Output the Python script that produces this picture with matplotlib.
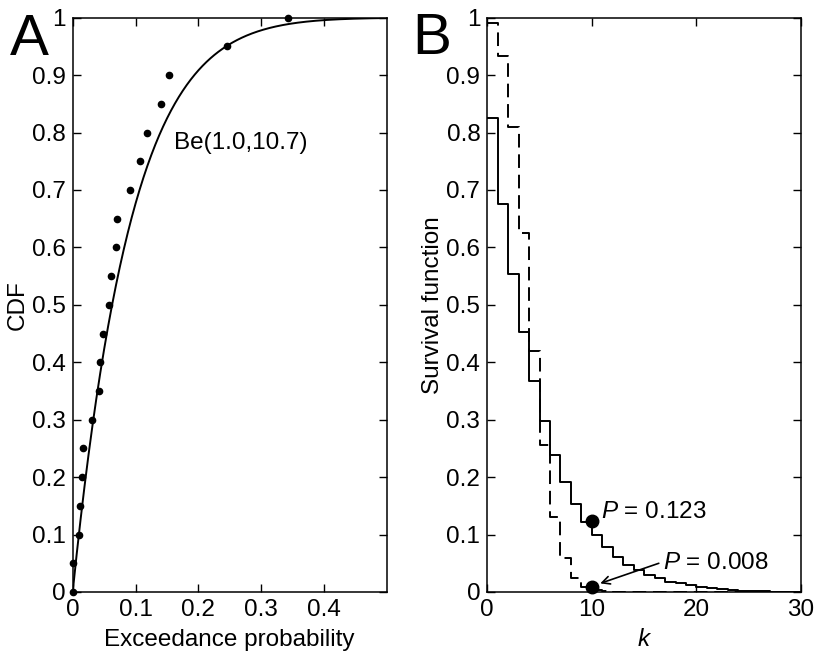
import numpy as np
import matplotlib
matplotlib.use("Agg")
import matplotlib.pyplot as plt

plt.rcParams['font.family'] = ['Liberation Sans', 'DejaVu Sans']
plt.rcParams['mathtext.fontset'] = 'custom'
plt.rcParams['mathtext.it'] = 'Liberation Sans:italic'
plt.rcParams['mathtext.rm'] = 'Liberation Sans'

# ---- Panel A data ----
exceed_x = [0.0, 0.001, 0.010, 0.012, 0.015, 0.016, 0.031, 0.042, 0.043, 0.049,
            0.058, 0.061, 0.069, 0.071, 0.091, 0.107, 0.118, 0.141, 0.153, 0.246, 0.343]
cdf_y = [0.0, 0.05, 0.10, 0.15, 0.20, 0.25, 0.30, 0.35, 0.40, 0.45, 0.50,
         0.55, 0.60, 0.65, 0.70, 0.75, 0.80, 0.85, 0.90, 0.95, 1.0]
beta_a, beta_b = 1.0, 10.7
fit_label = "Be(1.0,10.7)"

# ---- Panel B data ----
k_solid = [0.825, 0.676, 0.554, 0.452, 0.368, 0.297, 0.239, 0.191, 0.154, 0.122,
           0.099, 0.079, 0.0615, 0.047, 0.038, 0.030, 0.024, 0.018, 0.015, 0.012,
           0.009, 0.007, 0.005, 0.0035, 0.0025, 0.0017, 0.0011, 0.0007, 0.0004, 0.0002]
k_dashed = [0.990, 0.934, 0.809, 0.625, 0.419, 0.256, 0.130, 0.060, 0.025, 0.008,
            0.003, 0.0015, 0.0008, 0.0004, 0.0002, 0.0001, 0.0, 0.0, 0.0, 0.0,
            0.0, 0.0, 0.0, 0.0, 0.0, 0.0, 0.0, 0.0, 0.0, 0.0]
p_points_k = [10, 10]
p_points_v = [0.123, 0.008]
p_labels = ["$P$ = 0.123", "$P$ = 0.008"]

fig = plt.figure(figsize=(8.16, 6.55), dpi=100)
axA = fig.add_axes([72.7/816, 63/655, 314/816, 574.3/655])
axB = fig.add_axes([487.3/816, 63/655, 313.7/816, 574.3/655])

fs = 17.5
for ax in (axA, axB):
    ax.tick_params(direction='in', top=True, right=True, length=6, width=1.0,
                   labelsize=fs, pad=5)
    for s in ax.spines.values():
        s.set_linewidth(1.1)

ylabels = ['0'] + [f"{v/10:.1f}" for v in range(1, 10)] + ['1']

# Panel A
xs = np.linspace(0, 0.5, 400)
axA.plot(xs, 1 - (1 - xs) ** beta_b, color='black', lw=1.4)
axA.plot(exceed_x, cdf_y, 'o', color='black', ms=4.5, clip_on=False)
axA.set_xlim(0, 0.5)
axA.set_ylim(0, 1)
axA.set_xticks([0, 0.1, 0.2, 0.3, 0.4])
axA.set_xticklabels(['0', '0.1', '0.2', '0.3', '0.4'])
axA.set_yticks(np.arange(11) / 10)
axA.set_yticklabels(ylabels)
axA.text(0.162, 0.782, fit_label, fontsize=fs, va='center', ha='left')
axA.set_xlabel("Exceedance probability", fontsize=fs)
axA.set_ylabel("CDF", fontsize=fs)
axA.yaxis.set_label_coords(-0.139, 0.5)
axA.xaxis.set_label_coords(0.5, -0.064)

# Panel B
kk = np.arange(len(k_solid) + 1)
axB.step(kk, k_solid + [k_solid[-1]], where='post', color='black', lw=1.4)
axB.step(kk, k_dashed + [k_dashed[-1]], where='post', color='black', lw=1.4,
         linestyle=(0, (7, 3.5)))
axB.plot(p_points_k, p_points_v, 'o', color='black', ms=9, clip_on=False, zorder=5)
axB.text(10.9, 0.14, p_labels[0], fontsize=fs, va='center', ha='left')
axB.text(16.8, 0.05, p_labels[1], fontsize=fs, va='center', ha='left')
axB.annotate("", xy=(10.8, 0.015), xytext=(16.4, 0.05),
             arrowprops=dict(arrowstyle='->', color='black', lw=1.2,
                             shrinkA=0, shrinkB=0, mutation_scale=14))
axB.set_xlim(0, 30)
axB.set_ylim(0, 1)
axB.set_xticks([0, 10, 20, 30])
axB.set_yticks(np.arange(11) / 10)
axB.set_yticklabels(ylabels)
axB.set_xlabel("$k$", fontsize=fs)
axB.set_ylabel("Survival function", fontsize=fs)
axB.yaxis.set_label_coords(-0.138, 0.5)
axB.xaxis.set_label_coords(0.5, -0.064)

fig.text(10/816, 1 - 55/655, "A", fontsize=42, ha='left', va='baseline')
fig.text(412/816, 1 - 54/655, "B", fontsize=42, ha='left', va='baseline')

fig.savefig("out.png", dpi=100)
